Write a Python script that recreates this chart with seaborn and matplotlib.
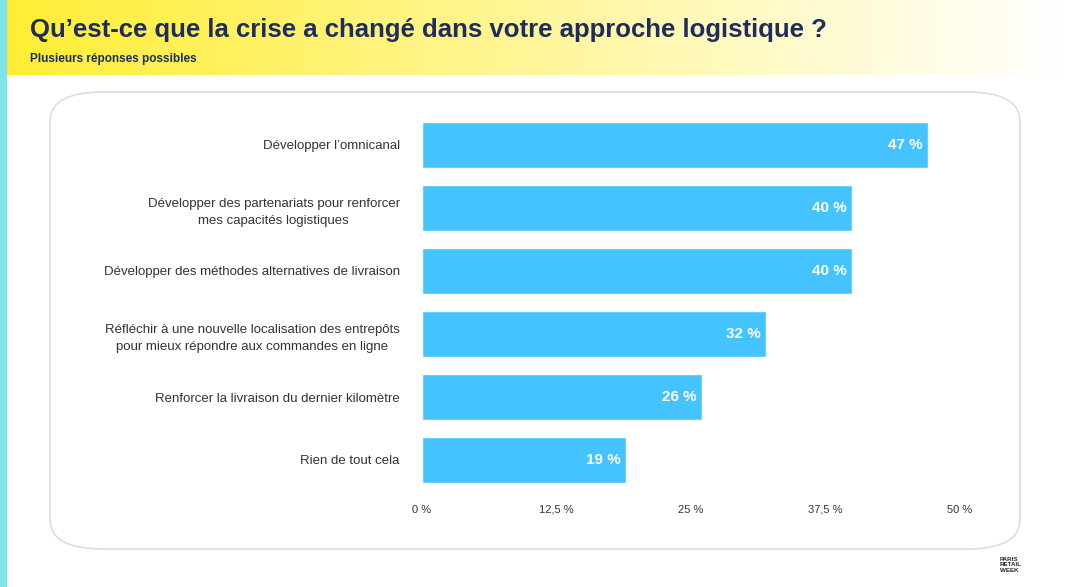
import matplotlib
matplotlib.use("Agg")
import matplotlib.pyplot as plt
import seaborn as sns
import pandas as pd
import numpy as np
from matplotlib.patches import FancyBboxPatch

categories = ["Développer l’omnicanal",
              "Développer des partenariats pour renforcer\nmes capacités logistiques",
              "Développer des méthodes alternatives de livraison",
              "Réfléchir à une nouvelle localisation des entrepôts\npour mieux répondre aux commandes en ligne",
              "Renforcer la livraison du dernier kilomètre",
              "Rien de tout cela"]
values = [47, 40, 40, 32, 26, 19]
ticks = [0, 12.5, 25, 37.5, 50]
tick_labels = ["0 %", "12,5 %", "25 %", "37,5 %", "50 %"]

sns.set_theme(style="white")
plt.rcParams['font.family'] = ['Liberation Sans', 'DejaVu Sans']

fig = plt.figure(figsize=(10.65, 5.87), dpi=100)
fig.patch.set_facecolor("white")

bg = fig.add_axes([0, 0, 1, 1], zorder=-10)
bg.axis("off")
grad = np.linspace(0, 1, 256)
img = np.zeros((1, 256, 4))
img[0, :, 0] = 1.0; img[0, :, 1] = 0.93 + 0.07 * grad; img[0, :, 2] = 0.2 + 0.8 * grad
img[0, :, 3] = 1.0
bg.imshow(img, extent=[0, 1, 1 - 75/587, 1], aspect="auto")
bg.add_patch(FancyBboxPatch((50/1065, 38/587), 970/1065, 457/587,
                            boxstyle="round,pad=0,rounding_size=0.05",
                            fc="white", ec="#dddddd", lw=1.2))
bg.add_patch(plt.Rectangle((0, 0), 6/1065, 1, color="#7fe3e8"))
bg.set_xlim(0, 1); bg.set_ylim(0, 1)
fig.text(30/1065, 1 - 30/587, "Qu’est-ce que la crise a changé dans votre approche logistique ?",
         fontsize=18.5, fontweight="bold", color="#1e2d5c", va="center")
fig.text(30/1065, 1 - 59/587, "Plusieurs réponses possibles", fontsize=8.5,
         fontweight="bold", color="#1e2d5c", va="center")
fig.text(1000/1065, 1 - 565/587, "PARIS\nRETAIL\nWEEK", fontsize=4.5, fontweight="bold",
         va="center", linespacing=1.1)

ax = fig.add_axes([422/1065, 1 - 491.5/587, 538/1065, 378/587])
df = pd.DataFrame({"cat": categories, "val": values})
sns.barplot(data=df, x="val", y="cat", ax=ax, color="#45c3ff", saturation=1, width=0.72)
ax.set_xlim(0, 50)
ax.set_xticks(ticks)
ax.set_xticklabels(tick_labels, fontsize=8, color="#333333")
ax.tick_params(axis="y", labelsize=9.5, colors="#333333", pad=10)
for lab in ax.get_yticklabels():
    lab.set_multialignment("center")
    lab.set_linespacing(1.6)
ax.set_xlabel(""); ax.set_ylabel("")
for s in ax.spines.values():
    s.set_visible(False)
ax.patch.set_alpha(0)
for i, v in enumerate(values):
    ax.text(v - 0.5, i, f"{v} %", color="white", fontweight="bold", fontsize=11,
            ha="right", va="center")
fig.savefig("out.png", dpi=100)
